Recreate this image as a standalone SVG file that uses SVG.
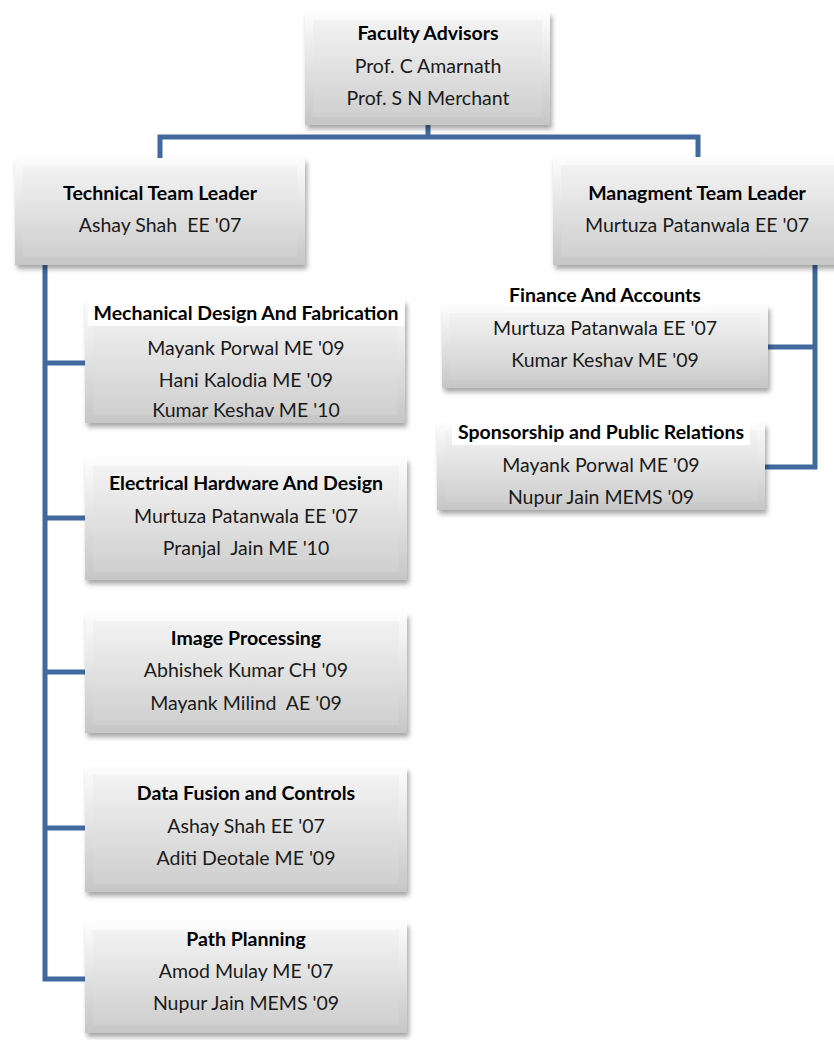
<svg xmlns="http://www.w3.org/2000/svg" width="834" height="1040" viewBox="0 0 834 1040">
<defs>
<linearGradient id="gOuter" x1="0" y1="0" x2="0" y2="1">
<stop offset="0" stop-color="#fdfdfd"/>
<stop offset="1" stop-color="#c6c6c6"/>
</linearGradient>
<linearGradient id="gInner" x1="0" y1="0" x2="0" y2="1">
<stop offset="0" stop-color="#f3f3f3"/>
<stop offset="1" stop-color="#cfcfcf"/>
</linearGradient>
<filter id="sh" x="-10%" y="-10%" width="125%" height="130%">
<feDropShadow dx="2" dy="4" stdDeviation="2.5" flood-color="#000" flood-opacity="0.35"/>
</filter>
</defs>
<style>
.bo{fill:url(#gOuter);filter:url(#sh)}
.bi{fill:url(#gInner)}
.t{font-family:Lato,"Open Sans","Liberation Sans",sans-serif;font-size:19.5px;fill:#1a1a1a;text-anchor:middle}
.b{font-weight:bold;fill:#000}
.w{fill:#ffffff}
.c{stroke:#41699d;stroke-width:5;fill:none;stroke-linecap:square}
</style>
<rect width="834" height="1040" fill="#ffffff"/>
<g id="connectors">
<path class="c" d="M428 125V137M160 137H698M160 137V158M698 137V157"/>
<path class="c" d="M45 265V979M45 363H85M45 518H85M45 672H85M45 828H85M45 979H85"/>
<path class="c" d="M815 265V467M768 347H815M765 467H815"/>
</g>
<g id="faculty">
<rect class="bo" x="305" y="12" width="245" height="113"/>
<rect class="bi" x="313" y="20" width="229" height="97"/>
<text class="t b" x="428" y="40">Faculty Advisors</text>
<text class="t" x="428" y="73">Prof. C Amarnath</text>
<text class="t" x="428" y="105">Prof. S N Merchant</text>
</g>
<g id="tech-leader">
<rect class="bo" x="15" y="158" width="290" height="107"/>
<rect class="bi" x="23" y="166" width="274" height="91"/>
<text class="t b" x="160" y="200">Technical Team Leader</text>
<text class="t" x="160" y="232" xml:space="preserve">Ashay Shah  EE '07</text>
</g>
<g id="mgmt-leader">
<rect class="bo" x="553" y="157" width="290" height="108"/>
<rect class="bi" x="561" y="165" width="274" height="92"/>
<text class="t b" x="697" y="200">Managment Team Leader</text>
<text class="t" x="697" y="232">Murtuza Patanwala EE '07</text>
</g>
<g id="finance">
<rect class="bo" x="442" y="305" width="326" height="83"/>
<rect class="bi" x="450" y="313" width="310" height="67"/>
<rect class="w" x="505" y="284" width="200" height="22"/>
<text class="t b" x="605" y="302">Finance And Accounts</text>
<text class="t" x="605" y="335">Murtuza Patanwala EE '07</text>
<text class="t" x="605" y="367">Kumar Keshav ME '09</text>
</g>
<g id="sponsorship">
<rect class="bo" x="437" y="423" width="328" height="87"/>
<rect class="bi" x="445" y="431" width="312" height="71"/>
<rect class="w" x="452" y="421" width="298" height="24"/>
<text class="t b" x="601" y="439">Sponsorship and Public Relations</text>
<text class="t" x="601" y="472">Mayank Porwal ME '09</text>
<text class="t" x="601" y="504">Nupur Jain MEMS '09</text>
</g>
<g id="mechanical">
<rect class="bo" x="85" y="300" width="320" height="123"/>
<rect class="bi" x="93" y="308" width="304" height="107"/>
<rect class="w" x="88" y="302" width="316" height="24"/>
<text class="t b" x="246" y="320">Mechanical Design And Fabrication</text>
<text class="t" x="246" y="355">Mayank Porwal ME '09</text>
<text class="t" x="246" y="387">Hani Kalodia ME '09</text>
<text class="t" x="246" y="417">Kumar Keshav ME '10</text>
</g>
<g id="electrical">
<rect class="bo" x="85" y="458" width="322" height="122"/>
<rect class="bi" x="93" y="466" width="306" height="106"/>
<text class="t b" x="246" y="490">Electrical Hardware And Design</text>
<text class="t" x="246" y="523">Murtuza Patanwala EE '07</text>
<text class="t" x="246" y="555" xml:space="preserve">Pranjal  Jain ME '10</text>
</g>
<g id="image-processing">
<rect class="bo" x="85" y="613" width="322" height="120"/>
<rect class="bi" x="93" y="621" width="306" height="104"/>
<text class="t b" x="246" y="645">Image Processing</text>
<text class="t" x="246" y="677">Abhishek Kumar CH '09</text>
<text class="t" x="246" y="710" xml:space="preserve">Mayank Milind  AE '09</text>
</g>
<g id="data-fusion">
<rect class="bo" x="85" y="767" width="322" height="125"/>
<rect class="bi" x="93" y="775" width="306" height="109"/>
<text class="t b" x="246" y="800">Data Fusion and Controls</text>
<text class="t" x="246" y="833">Ashay Shah EE '07</text>
<text class="t" x="246" y="865">Aditi Deotale ME '09</text>
</g>
<g id="path-planning">
<rect class="bo" x="85" y="922" width="322" height="111"/>
<rect class="bi" x="93" y="930" width="306" height="95"/>
<text class="t b" x="246" y="946">Path Planning</text>
<text class="t" x="246" y="978">Amod Mulay ME '07</text>
<text class="t" x="246" y="1010">Nupur Jain MEMS '09</text>
</g>
</svg>
